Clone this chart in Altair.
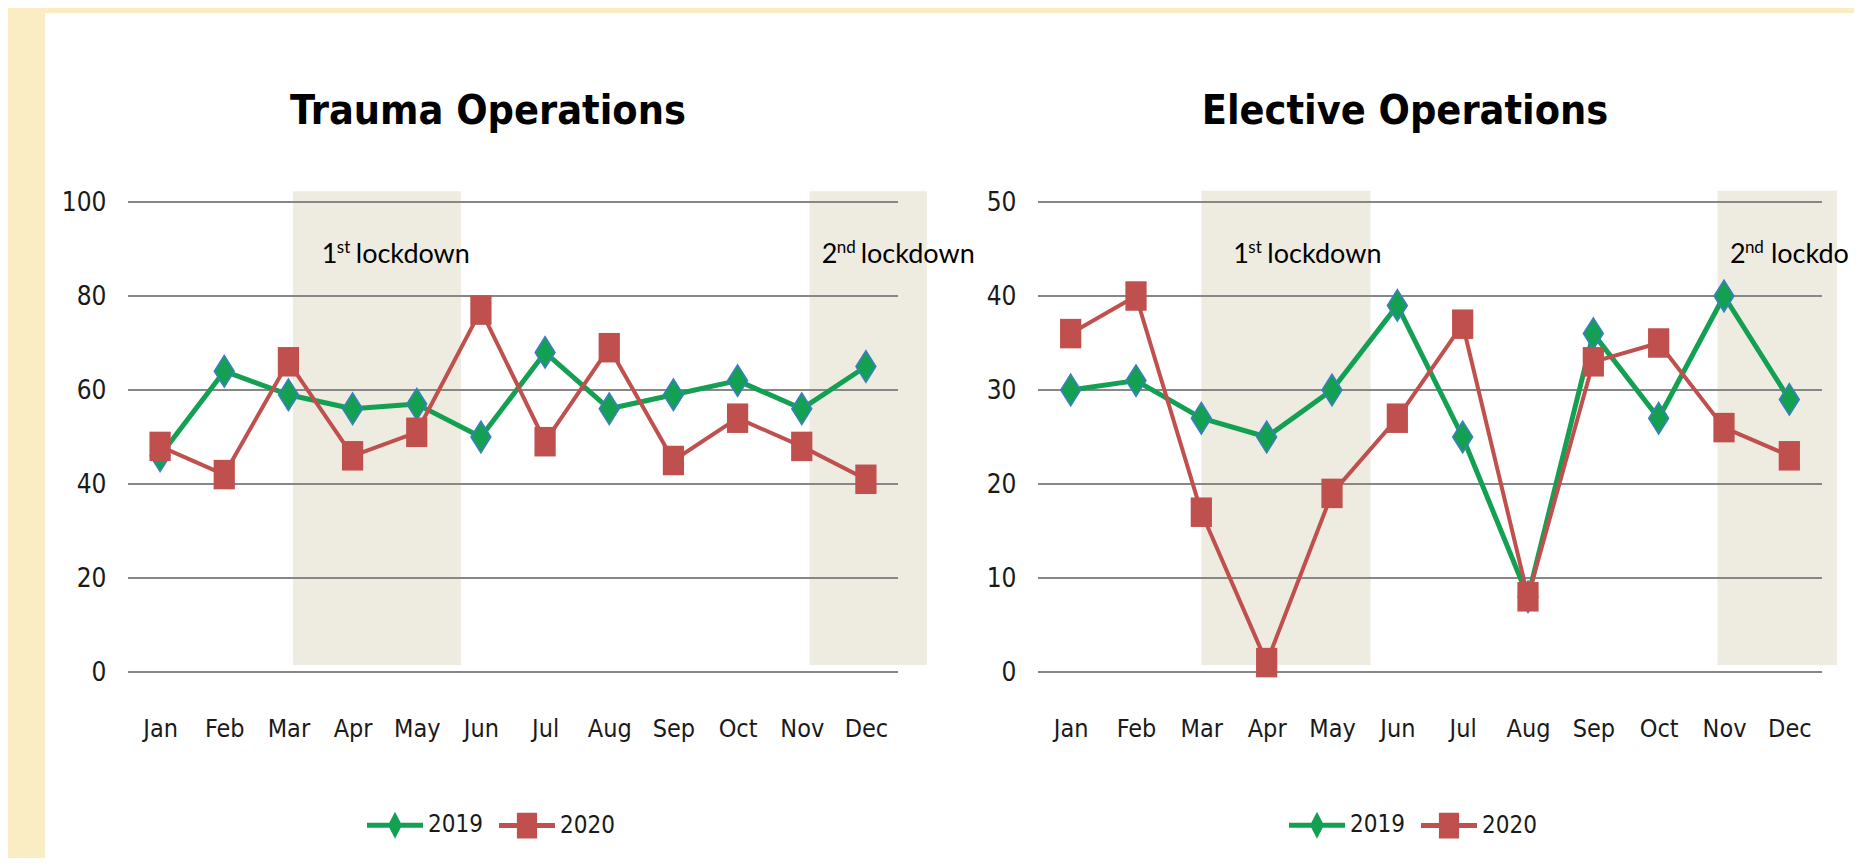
import altair as alt
import pandas as pd

# ---------------- data ----------------
months = ["Jan", "Feb", "Mar", "Apr", "May", "Jun", "Jul", "Aug", "Sep", "Oct", "Nov", "Dec"]
month_num = list(range(1, 13))
years = ["2019", "2020"]

trauma_2019 = [46, 64, 59, 56, 57, 50, 68, 56, 59, 62, 56, 65]
trauma_2020 = [48, 42, 66, 46, 51, 77, 49, 69, 45, 54, 48, 41]
elective_2019 = [30, 31, 27, 25, 30, 39, 25, 8, 36, 27, 40, 29]
elective_2020 = [36, 40, 17, 1, 19, 27, 37, 8, 33, 35, 26, 23]

trauma_ticks = [0, 20, 40, 60, 80, 100]
elective_ticks = [0, 10, 20, 30, 40, 50]

lockdown_num = ["1", "2"]
lockdown_sup = ["st", "nd"]
lockdown_word = ["lockdown", "lockdown"]

# shaded lockdown periods (month index units) and their vertical extent
trauma_shade_start = [3.07, 11.12]
trauma_shade_end = [5.69, 12.95]
trauma_shade_lo = [1.5, 1.5]
trauma_shade_hi = [102.3, 102.3]
elective_shade_start = [3.0, 10.9]
elective_shade_end = [5.59, 12.73]
elective_shade_lo = [0.75, 0.75]
elective_shade_hi = [51.2, 51.2]

# annotation anchors
trauma_label_x = [3.52, 11.31]
trauma_label_y = [87, 87]
elective_label_x = [3.49, 11.09]
elective_label_y = [43.5, 43.5]

# ---------------- style ----------------
GREEN = "#14A052"
BLUE_EDGE = "#3C7DC4"
RED = "#C0504D"
SHADE = "#EEECE1"
GRID = "#878787"
BEIGE = "#FAEDC3"
AXFONT = "'DejaVu Sans Condensed', 'Liberation Sans Narrow', 'Roboto Condensed', Roboto, sans-serif"
ANFONT = "Lato"

DIAMOND = "M0,-1L0.63,0L0,1L-0.63,0Z"
SQUARE = "M-0.72,-1H0.72V1H-0.72Z"
LEG_DIAMOND = "M-1,-0.09H1V0.09H-1Z M0,-0.48L0.25,0L0,0.48L-0.25,0Z"
LEG_SQUARE = "M-1,-0.09H1V0.09H-1Z M-0.36,-0.46H0.36V0.46H-0.36Z"

month_expr = "[" + ",".join("'%s'" % m for m in months) + "][datum.value - 1]"


def panel(title, v19, v20, ticks, s_start, s_end, s_lo, s_hi, lab_x, lab_y,
          width, height, legend_x, strips, word_dx, word_limit):
    ymax = ticks[-1]
    xs = alt.Scale(domain=[0.5, 12.5], nice=False, zero=False)
    ys = alt.Scale(domain=[0, ymax], nice=False, zero=False)
    xaxis = alt.Axis(values=month_num, labelExpr=month_expr, grid=False, domain=False,
                     ticks=False, tickSize=0, title=None, labelFont=AXFONT, labelFontSize=25,
                     labelColor="#1a1a1a", labelPadding=44, labelFlush=False, labelOverlap=False)
    yaxis = alt.Axis(values=ticks, grid=False, domain=False, ticks=False, tickSize=0,
                     title=None, labelFont=AXFONT, labelFontSize=26, labelColor="#1a1a1a",
                     labelPadding=22)

    def X(f):
        return alt.X(f, type="quantitative", scale=xs, axis=xaxis)

    def Y(f):
        return alt.Y(f, type="quantitative", scale=ys, axis=yaxis)

    df = pd.DataFrame({
        "m": month_num * 2,
        "v": v19 + v20,
        "year": [years[0]] * 12 + [years[1]] * 12,
    })
    shade_df = pd.DataFrame({"s": s_start, "e": s_end, "lo": s_lo, "hi": s_hi})
    grid_df = pd.DataFrame({"t": ticks})

    layers = []
    one = pd.DataFrame({"k": [0]})
    for (x1, x2, y1, y2) in strips:
        layers.append(alt.Chart(one).mark_rect(color=BEIGE).encode(
            x=alt.value(x1), x2=alt.value(x2), y=alt.value(y1), y2=alt.value(y2)))

    layers.append(alt.Chart(shade_df).mark_rect(color=SHADE).encode(
        x=X("s"), x2="e", y=Y("lo"), y2="hi"))
    layers.append(alt.Chart(grid_df).mark_rule(color=GRID, strokeWidth=2).encode(
        y=Y("t"), x=alt.value(0), x2=alt.value(width)))

    for yr, col, lw, shape, size, extra in [
        (years[0], GREEN, 5, DIAMOND, 1000, dict(stroke=BLUE_EDGE, strokeWidth=1.5)),
        (years[1], RED, 4, SQUARE, 870, dict(stroke=RED, strokeWidth=0)),
    ]:
        base = alt.Chart(df).transform_filter(alt.datum.year == yr)
        layers.append(base.mark_line(color=col, strokeWidth=lw, strokeJoin="round").encode(
            x=X("m"), y=Y("v")))
        layers.append(base.mark_point(shape=shape, size=size, filled=True, fill=col,
                                      opacity=1, **extra).encode(x=X("m"), y=Y("v")))

    for i in range(len(lab_x)):
        adf = pd.DataFrame({"x": [lab_x[i]], "y": [lab_y[i]], "n": [lockdown_num[i]],
                            "s": [lockdown_sup[i]], "w": [lockdown_word[i]]})
        layers.append(alt.Chart(adf).mark_text(font=ANFONT, fontSize=27, color="black",
                                               align="left", baseline="alphabetic").encode(
            x=X("x"), y=Y("y"), text="n:N"))
        layers.append(alt.Chart(adf).mark_text(font=ANFONT, fontSize=17, color="black",
                                               align="left", baseline="alphabetic",
                                               dx=15, dy=-10).encode(
            x=X("x"), y=Y("y"), text="s:N"))
        kw = {}
        if word_limit[i]:
            kw = dict(limit=word_limit[i], ellipsis="\u200b")
        layers.append(alt.Chart(adf).mark_text(font=ANFONT, fontSize=27, color="black",
                                               align="left", baseline="alphabetic",
                                               dx=word_dx[i], **kw).encode(
            x=X("x"), y=Y("y"), text="w:N"))

    leg = alt.Legend(orient="none", legendX=legend_x, legendY=595, direction="horizontal",
                     title=None, symbolSize=3136, symbolStrokeWidth=0, labelFont=AXFONT,
                     labelFontSize=24, labelColor="#1a1a1a", labelOffset=5, columnPadding=16,
                     padding=0, symbolOpacity=1)
    layers.append(alt.Chart(df).transform_filter("false").mark_point(filled=True).encode(
        x=X("m"), y=Y("v"),
        color=alt.Color("year:N", scale=alt.Scale(domain=years, range=[GREEN, RED]), legend=leg),
        shape=alt.Shape("year:N", scale=alt.Scale(domain=years, range=[LEG_DIAMOND, LEG_SQUARE]),
                        legend=leg),
    ))

    return alt.layer(*layers).properties(
        width=width, height=height,
        title=alt.TitleParams(title, font=AXFONT, fontSize=41, fontWeight="bold", color="black",
                              anchor="middle", frame="group", offset=-157,
                              baseline="alphabetic", dx=-25),
    )


left = panel("Trauma Operations", trauma_2019, trauma_2020, trauma_ticks,
             trauma_shade_start, trauma_shade_end, trauma_shade_lo, trauma_shade_hi,
             trauma_label_x, trauma_label_y, 770, 470, 239,
             strips=[(-120, -83, -194, 656), (-120, 850, -194, -189)],
             word_dx=[34, 39], word_limit=[0, 0])
right = panel("Elective Operations", elective_2019, elective_2020, elective_ticks,
              elective_shade_start, elective_shade_end, elective_shade_lo, elective_shade_hi,
              elective_label_x, elective_label_y, 784, 470, 251,
              strips=[(-60, 816, -194, -189)],
              word_dx=[34, 41], word_limit=[0, 83])

chart = alt.hconcat(left, right, spacing=140, bounds="flush").resolve_scale(
    color="independent", shape="independent"
).resolve_legend(color="independent", shape="independent").properties(
    padding=0, background="white"
).configure_view(stroke=None)

chart.save("out.html", embed_options={"renderer": "svg", "actions": False})
